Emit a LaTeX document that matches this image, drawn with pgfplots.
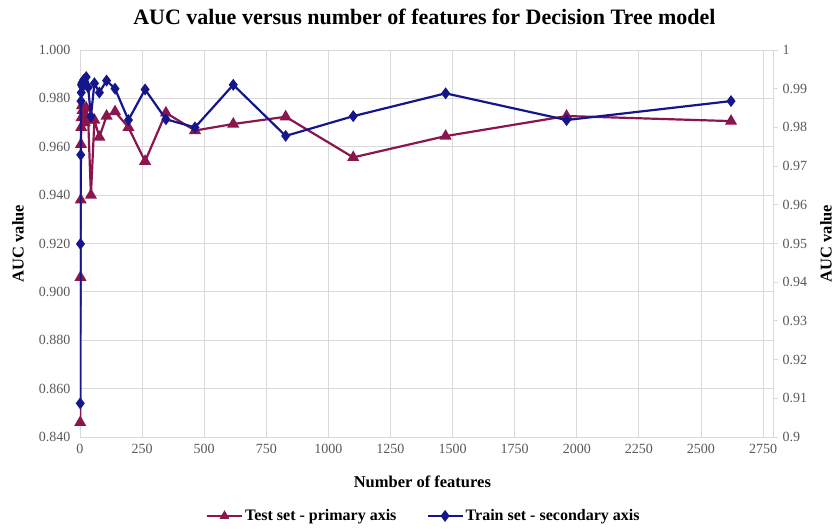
\documentclass[border=0pt]{standalone}
\usepackage{pgfplots}
\pgfplotsset{compat=1.18}
\usepackage{fontspec}
\setmainfont{Liberation Serif}
\definecolor{testc}{RGB}{139,22,78}
\definecolor{trainc}{RGB}{22,22,140}
\definecolor{gridc}{RGB}{217,217,217}
\definecolor{tickc}{RGB}{89,89,89}
\pgfplotstableread{
x test
1 0.846
2 0.906
3 0.938
4 0.961
5 0.968
6 0.972
8 0.977
10 0.975
14 0.973
19 0.970
25 0.976
33 0.971
44 0.940
58 0.971
78 0.964
107 0.9727
141 0.9745
195 0.968
262 0.954
346 0.974
463 0.9667
617 0.9694
828 0.9724
1100 0.9556
1472 0.9644
1959 0.9727
2621 0.9706
}\testdata
\pgfplotstableread{
x train
1 0.9087
2 0.9499
3 0.9729
4 0.9868
5 0.9890
6 0.9910
8 0.9915
10 0.9905
14 0.9922
19 0.9918
25 0.9930
33 0.9903
44 0.9828
58 0.9914
78 0.9890
107 0.9921
141 0.9900
195 0.9819
262 0.9898
346 0.9821
463 0.9800
617 0.9910
828 0.9778
1100 0.9829
1472 0.9888
1959 0.9819
2621 0.9868
}\traindata
\begin{document}
\begin{tikzpicture}
\useasboundingbox (-80pt,-92pt) rectangle (755pt,437pt);
\begin{axis}[
  at={(0pt,0pt)}, anchor=south west,
  scale only axis, width=693pt, height=387pt,
  xmin=0, xmax=2790, ymin=0.84, ymax=1.0,
  xtick={0,250,...,2750},
  ytick={0.84,0.86,0.88,0.90,0.92,0.94,0.96,0.98,1.0},
  axis x line*=bottom, axis y line*=left,
  y axis line style={draw=none},
  x axis line style={draw=gridc, line width=0.8pt},
  major tick length=0pt,
  grid=major, major grid style={draw=gridc, line width=0.8pt},
  tick label style={font=\fontsize{14}{16}\selectfont, text=tickc},
  /pgf/number format/assume math mode=true,
  xticklabel style={/pgf/number format/set thousands separator={}, yshift=-4pt},
  yticklabel style={/pgf/number format/fixed, /pgf/number format/fixed zerofill, /pgf/number format/precision=3, xshift=-6pt},
  xlabel={Number of features},
  ylabel={AUC value},
  xlabel style={font=\fontsize{16.5}{18}\selectfont\bfseries, at={(axis description cs:0.494,-0.116)}, anchor=center},
  ylabel style={font=\fontsize{16.5}{18}\selectfont\bfseries, at={(axis description cs:-0.0895,0.5)}, anchor=center, rotate=0},
  title={AUC value versus number of features for Decision Tree model},
  title style={font=\fontsize{22}{26}\selectfont\bfseries, at={(axis description cs:0.497,1.07)}, anchor=center},
]
\addplot[testc, line width=2.2pt, mark=triangle*, mark size=4.8pt, mark options={solid}] table[x=x,y=test]{\testdata};
\end{axis}
\begin{axis}[
  at={(0pt,0pt)}, anchor=south west,
  scale only axis, width=693pt, height=387pt,
  xmin=0, xmax=2790, ymin=0.9, ymax=1.0,
  axis x line=none, axis y line*=right,
  y axis line style={draw=gridc, line width=0.8pt},
  ytick={0.9,0.91,0.92,0.93,0.94,0.95,0.96,0.97,0.98,0.99,1.0},
  major tick length=5pt, tick style={draw=gridc, line width=0.8pt},
  ytick pos=right, tick align=outside,
  tick label style={font=\fontsize{14}{16}\selectfont, text=tickc},
  /pgf/number format/assume math mode=true,
  yticklabel style={xshift=1pt},
  ylabel={AUC value},
  ylabel style={font=\fontsize{16.5}{18}\selectfont\bfseries, at={(axis description cs:1.0765,0.5)}, anchor=center},
  legend style={at={(axis description cs:0.496,-0.204)}, anchor=center, draw=none, fill=none,
    font=\fontsize{16}{18}\selectfont\bfseries, legend columns=2,
    /tikz/every even column/.append style={column sep=28pt}},
  legend image code/.code={\draw[#1] (0pt,0pt) -- (35pt,0pt); \draw[#1, mark repeat=2, mark phase=2] plot coordinates {(0pt,0pt) (17.5pt,0pt) (35pt,0pt)};},
]
\addlegendimage{testc, line width=2.2pt, mark=triangle*, mark size=3.5pt}
\addlegendentry{Test set - primary axis}
\addplot[trainc, line width=2.2pt, mark=diamond*, mark size=4.2pt, mark options={solid}] table[x=x,y=train]{\traindata};
\addlegendentry{Train set - secondary axis}
\end{axis}
\end{tikzpicture}
\end{document}
